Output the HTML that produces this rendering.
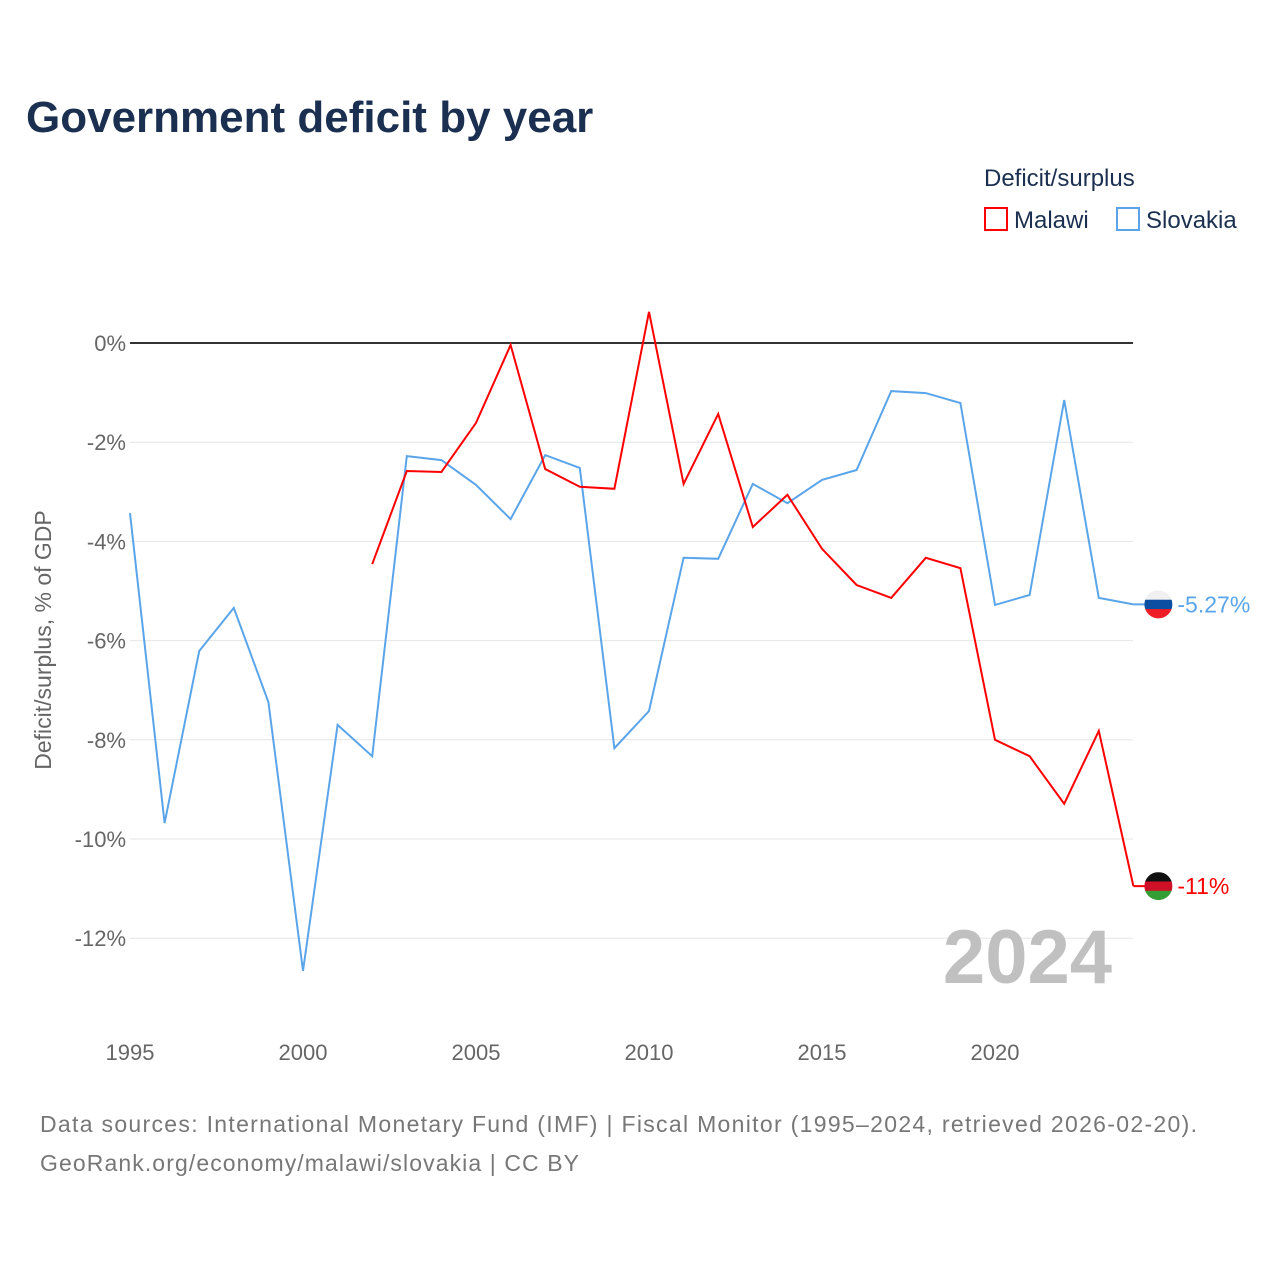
<!DOCTYPE html>
<html><head><meta charset="utf-8"><style>
body{margin:0;background:#fff;font-family:"Liberation Sans",sans-serif}
svg text{font-family:"Liberation Sans",sans-serif}
</style></head><body>
<svg id="chart" width="1280" height="1280" xmlns="http://www.w3.org/2000/svg">
<rect width="1280" height="1280" fill="#fff"/>
<text x="26" y="132" font-size="44" font-weight="bold" fill="#1b3050">Government deficit by year</text>
<text x="984" y="186" font-size="24" fill="#1b3050">Deficit/surplus</text>
<g><rect x="985" y="208" width="22" height="22" fill="none" stroke="#ff0000" stroke-width="2"/><text x="1014" y="228" font-size="24" fill="#1b3050">Malawi</text></g>
<g><rect x="1117" y="208" width="22" height="22" fill="none" stroke="#5aa5ea" stroke-width="2"/><text x="1146" y="228" font-size="24" fill="#1b3050">Slovakia</text></g>
<text transform="translate(51,640) rotate(-90)" text-anchor="middle" font-size="23" fill="#666">Deficit/surplus, % of GDP</text>
<g id="grid"></g><g id="marks"></g>
<text x="1112" y="983" text-anchor="end" font-size="76" font-weight="bold" fill="#c0c0c0">2024</text>
<text x="40" y="1132" font-size="23" fill="#777" textLength="1157">Data sources: International Monetary Fund (IMF) | Fiscal Monitor (1995–2024, retrieved 2026-02-20).</text>
<text x="40" y="1171" font-size="23" fill="#777" textLength="539">GeoRank.org/economy/malawi/slovakia | CC BY</text>
</svg>
<script>
const years=[1995,1996,1997,1998,1999,2000,2001,2002,2003,2004,2005,2006,2007,2008,2009,2010,2011,2012,2013,2014,2015,2016,2017,2018,2019,2020,2021,2022,2023,2024];
const slovakia=[-3.43,-9.68,-6.21,-5.34,-7.24,-12.66,-7.70,-8.33,-2.28,-2.36,-2.86,-3.55,-2.26,-2.52,-8.17,-7.42,-4.33,-4.35,-2.84,-3.23,-2.76,-2.56,-0.97,-1.01,-1.21,-5.28,-5.08,-1.15,-5.14,-5.27];
const malawi=[null,null,null,null,null,null,null,-4.46,-2.58,-2.60,-1.61,-0.04,-2.54,-2.90,-2.94,0.63,-2.84,-1.43,-3.71,-3.06,-4.15,-4.88,-5.14,-4.33,-4.54,-8.00,-8.33,-9.29,-7.82,-10.95];
const yTicks=[0,-2,-4,-6,-8,-10,-12];
const xTicks=[1995,2000,2005,2010,2015,2020];
const NS="http://www.w3.org/2000/svg";
const x=v=>130+(v-1995)*(995-130)/25;
const y=v=>343-v*49.6;
const grid=document.getElementById('grid'),marks=document.getElementById('marks');
function mk(tag,at,parent){const e=document.createElementNS(NS,tag);for(const k in at)e.setAttribute(k,at[k]);parent.appendChild(e);return e;}
yTicks.forEach(t=>{
  const l=mk('line',{x1:130,x2:1133,y1:y(t),y2:y(t),stroke:t===0?'#333':'#e6e6e6','stroke-width':t===0?2:1},grid);
  
  
  const tx=mk('text',{x:126,y:y(t)+8,'text-anchor':'end','font-size':22,fill:'#666'},grid);
  tx.textContent=t+'%';
  
  
});
xTicks.forEach(t=>{
  const tx=mk('text',{x:x(t),y:1060,'text-anchor':'middle','font-size':22,fill:'#666'},grid);
  tx.textContent=t;
  
  
});
function line(vals,color,name){
  let d='';let started=false;
  vals.forEach((v,i)=>{if(v===null)return;d+=(started?'L':'M')+x(years[i]).toFixed(1)+','+y(v).toFixed(1);started=true;});
  const p=mk('path',{d:d,fill:'none',stroke:color,'stroke-width':2},marks);
  
  
}
line(slovakia,'#5aa5ea','slovakia-line');
line(malawi,'#ff0000','malawi-line');
function endLabel(vals,color,name,flag){
  const v=vals[vals.length-1],cx=x(2024)+25,cy=y(v);
  const g=mk('g',{},marks);
  
  
  mk('line',{x1:x(2024),x2:cx,y1:cy,y2:cy,stroke:color,'stroke-width':2},g);
  const cp='clip-'+name;
  const cl=mk('clipPath',{id:cp},g);mk('circle',{cx:cx,cy:cy,r:14},cl);
  flag.forEach((c,i)=>mk('rect',{x:cx-14,y:cy-14+i*28/3,width:28,height:28/3+0.5,fill:c,'clip-path':'url(#'+cp+')'},g));
  const t=mk('text',{x:cx+19,y:cy+8,'font-size':23,fill:color},g);
  t.textContent=(Math.abs(v)>=10?Math.round(v):v.toFixed(2))+'%';
}
endLabel(slovakia,'#5aa5ea','slovakia',['#f0f0f0','#0b4ea2','#ee1c25']);
endLabel(malawi,'#ff0000','malawi',['#111','#ce1126','#339e35']);
</script>
</body></html>
